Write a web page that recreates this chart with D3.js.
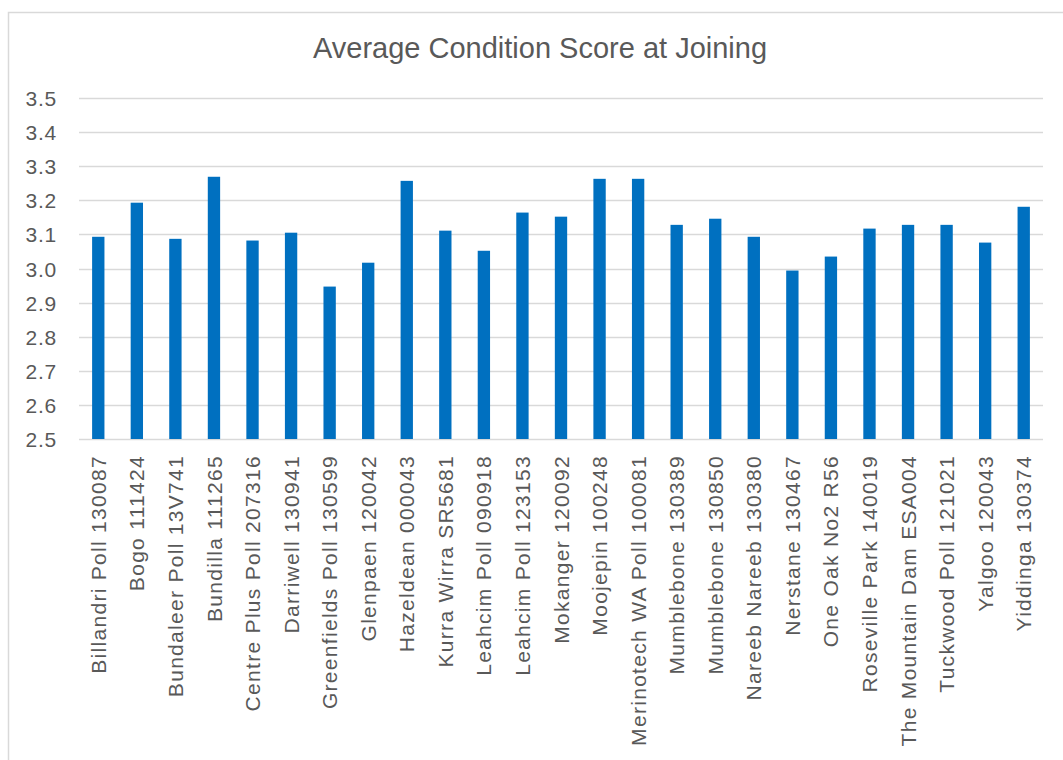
<!DOCTYPE html>
<html>
<head>
<meta charset="utf-8">
<script src="https://cdn.jsdelivr.net/npm/d3@7"></script>
<style>
  body { margin: 0; background: #fff; }
  svg { display: block; }
</style>
</head>
<body>
<svg id="chart" width="1063" height="760"></svg>
<script>
// chart data
const title = "Average Condition Score at Joining";

const sires = [
  "Billandri Poll 130087", "Bogo 111424", "Bundaleer Poll 13V741", "Bundilla 111265",
  "Centre Plus Poll 207316", "Darriwell 130941", "Greenfields Poll 130599", "Glenpaen 120042",
  "Hazeldean 000043", "Kurra Wirra SR5681", "Leahcim Poll 090918", "Leahcim Poll 123153",
  "Mokanger 120092", "Moojepin 100248", "Merinotech WA Poll 100081", "Mumblebone 130389",
  "Mumblebone 130850", "Nareeb Nareeb 130380", "Nerstane 130467", "One Oak No2 R56",
  "Roseville Park 140019", "The Mountain Dam ESA004", "Tuckwood Poll 121021", "Yalgoo 120043",
  "Yiddinga 130374"
];

const scores = [
  3.093, 3.193, 3.087, 3.269, 3.082, 3.105, 2.947, 3.017, 3.257, 3.111,
  3.052, 3.164, 3.152, 3.263, 3.263, 3.128, 3.146, 3.093, 2.994, 3.035,
  3.117, 3.128, 3.128, 3.076, 3.181
];

const yTicks = [2.5, 2.6, 2.7, 2.8, 2.9, 3.0, 3.1, 3.2, 3.3, 3.4, 3.5];

const data = sires.map((s, i) => ({ name: s, value: scores[i] }));

const textColor = "#595959",
      gridColor = "#d9d9d9",
      barColor = "#0070c0";

const margin = { left: 79, right: 20, top: 98, bottom: 321 };
const width = 1063, height = 760;

const svg = d3.select("#chart")
    .style("font-family", "'Liberation Sans', Arial, sans-serif");

// outer chart border (runs off the right and bottom edges)
svg.append("rect")
    .attr("x", 8.5).attr("y", 12.5)
    .attr("width", 1100).attr("height", 800)
    .attr("fill", "none")
    .attr("stroke", gridColor)
    .attr("stroke-width", 1.5);

svg.append("text")
    .attr("x", 540)
    .attr("y", 58)
    .attr("text-anchor", "middle")
    .attr("fill", textColor)
    .style("font-size", "29px")
    .text(title);

const x = d3.scaleBand()
    .domain(sires)
    .range([margin.left, width - margin.right])
    .paddingInner(0.68)
    .paddingOuter(0.34);

const y = d3.scaleLinear()
    .domain([2.5, 3.5])
    .range([height - margin.bottom, margin.top]);

// gridlines
svg.append("g")
  .selectAll("line")
  .data(yTicks)
  .join("line")
    .attr("x1", margin.left)
    .attr("x2", width - margin.right)
    .attr("y1", d => Math.round(y(d)) + 0.5)
    .attr("y2", d => Math.round(y(d)) + 0.5)
    .attr("stroke", gridColor)
    .attr("stroke-width", 1.5);

// y axis labels
const yAxis = svg.append("g")
    .attr("transform", `translate(${margin.left - 22},0)`)
    .call(d3.axisLeft(y).tickValues(yTicks).tickFormat(d3.format(".1f")).tickSize(0).tickPadding(0));
yAxis.select(".domain").remove();
yAxis.selectAll("text")
    .attr("fill", textColor)
    .attr("dy", "0.36em")
    .style("font-size", "21px")
    .style("letter-spacing", "0.8px")
    .style("font-family", "'Liberation Sans', Arial, sans-serif");

// bars
svg.append("g")
  .selectAll("rect")
  .data(data)
  .join("rect")
    .attr("x", d => x(d.name))
    .attr("width", x.bandwidth())
    .attr("y", d => y(d.value))
    .attr("height", d => y(2.5) - y(d.value))
    .attr("fill", barColor);

// x axis labels, rotated
const xAxis = svg.append("g")
    .attr("transform", `translate(0,${y(2.5)})`)
    .call(d3.axisBottom(x).tickSize(0).tickPadding(0));
xAxis.select(".domain").remove();
xAxis.selectAll("text")
    .attr("transform", "rotate(-90)")
    .attr("text-anchor", "end")
    .attr("x", -16)
    .attr("y", 0)
    .attr("dy", "0.36em")
    .attr("fill", textColor)
    .style("font-size", "21px")
    .style("letter-spacing", "1.3px")
    .style("font-family", "'Liberation Sans', Arial, sans-serif");
</script>
</body>
</html>
